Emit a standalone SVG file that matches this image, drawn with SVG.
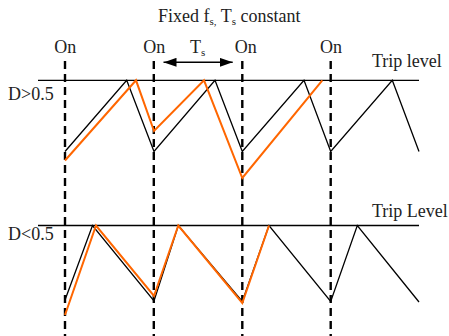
<svg xmlns="http://www.w3.org/2000/svg" width="449" height="336" viewBox="0 0 449 336">
<style>
text{font-family:"Liberation Serif","DejaVu Serif",serif;font-size:18px;fill:#222}
.sub{font-size:11px}
.dash{stroke:#000;stroke-width:2.4;stroke-dasharray:8,5;fill:none}
.trip{stroke:#000;stroke-width:1.3;fill:none}
.blk{stroke:#000;stroke-width:1.3;fill:none;stroke-linejoin:miter}
.org{stroke:#ff6600;stroke-width:2;fill:none;stroke-linejoin:miter}
</style>
<defs>
<marker id="ah" viewBox="0 0 13 9" refX="13" refY="4.5" markerWidth="13" markerHeight="9" markerUnits="userSpaceOnUse" orient="auto-start-reverse">
<path d="M0,0 L13,4.5 L0,9 z" fill="#000"/>
</marker>
</defs>
<rect width="449" height="336" fill="#fff"/>
<g id="title"><text x="158" y="22">Fixed f<tspan class="sub" dy="3">s,</tspan><tspan dy="-3"> T</tspan><tspan class="sub" dy="3">s</tspan><tspan dy="-3"> constant</tspan></text></g>
<g id="labels">
<text x="65.3" y="52.5" text-anchor="middle">On</text>
<text x="154.2" y="52.5" text-anchor="middle">On</text>
<text x="245.7" y="52.5" text-anchor="middle">On</text>
<text x="331" y="52.5" text-anchor="middle">On</text>
<text x="190" y="53">T<tspan class="sub" dy="3">s</tspan></text>
<text x="8" y="99.5">D&gt;0.5</text>
<text x="8" y="240">D&lt;0.5</text>
<text x="372" y="67">Trip level</text>
<text x="372" y="217">Trip Level</text>
</g>
<g id="connectors">
<line class="dash" x1="65" y1="61" x2="65" y2="336"/>
<line class="dash" x1="153.8" y1="61" x2="153.8" y2="336"/>
<line class="dash" x1="242.3" y1="61" x2="242.3" y2="336"/>
<line class="dash" x1="330.7" y1="61" x2="330.7" y2="336"/>
<line x1="163.5" y1="62.3" x2="232.7" y2="62.3" stroke="#000" stroke-width="1.5" marker-start="url(#ah)" marker-end="url(#ah)"/>
</g>
<g id="top-waveform">
<line class="trip" x1="38" y1="80.3" x2="419" y2="80.3"/>
<polyline class="blk" points="65,151.5 126.7,80.3 154,151.5 215,80.3 242.3,151.5 304,80.3 330.7,151.5 392.3,80.3 419,151.5"/>
<polyline class="org" points="65,160.5 136,80.3 154,131 204,80.3 242.3,178 322.3,80.3"/>
</g>
<g id="bottom-waveform">
<line class="trip" x1="38" y1="225.5" x2="419" y2="225.5"/>
<polyline class="blk" points="65,300 92.5,225.5 154,301 178.3,225.5 242.3,301.5 269,225.5 330.7,301.5 357.3,225.5 419,302"/>
<polyline class="org" points="65,315 96,225.5 154,296 178.3,225.5 242.3,303 269,225.5"/>
</g>
</svg>
